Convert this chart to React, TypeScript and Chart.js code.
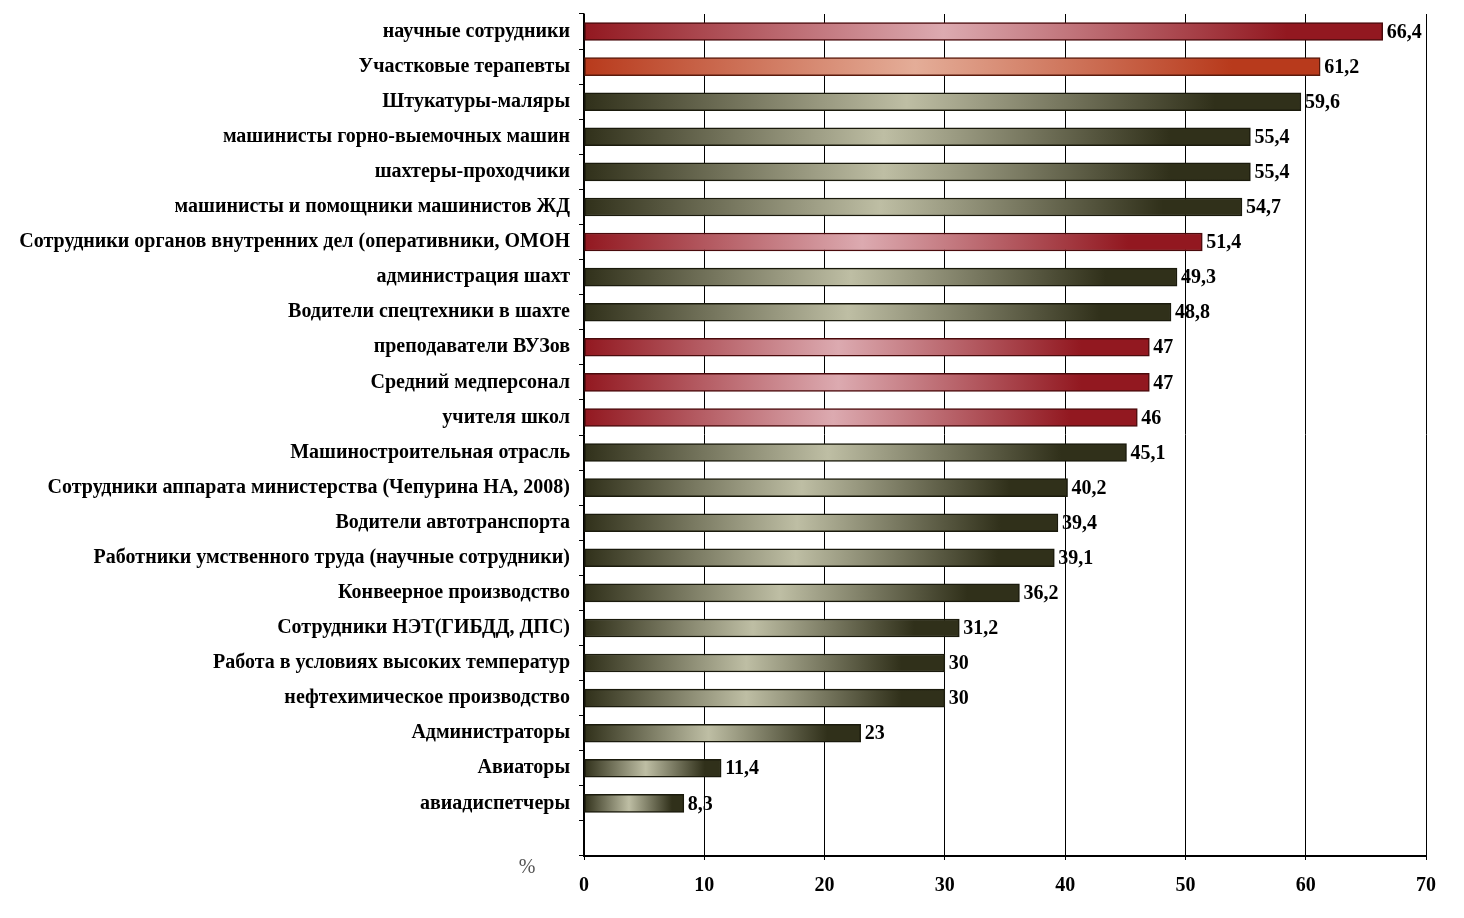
import React, { useEffect, useRef } from "react";
import { Chart, registerables } from "chart.js";

Chart.register(...registerables);

// categories, top to bottom; the last empty slot is the blank row above the x axis
const categories = [
    "научные сотрудники",
    "Участковые терапевты",
    "Штукатуры-маляры",
    "машинисты горно-выемочных машин",
    "шахтеры-проходчики",
    "машинисты и помощники машинистов ЖД",
    "Сотрудники органов внутренних дел (оперативники, ОМОН",
    "администрация шахт",
    "Водители спецтехники в шахте",
    "преподаватели ВУЗов",
    "Средний медперсонал",
    "учителя школ",
    "Машиностроительная отрасль",
    "Сотрудники аппарата министерства (Чепурина НА, 2008)",
    "Водители автотранспорта",
    "Работники умственного труда (научные сотрудники)",
    "Конвеерное производство",
    "Сотрудники НЭТ(ГИБДД, ДПС)",
    "Работа в условиях высоких температур",
    "нефтехимическое производство",
    "Администраторы",
    "Авиаторы",
    "авиадиспетчеры",
    "",
];

const values = [
    66.4, 61.2, 59.6, 55.4, 55.4, 54.7, 51.4, 49.3, 48.8, 47, 47, 46,
    45.1, 40.2, 39.4, 39.1, 36.2, 31.2, 30, 30, 23, 11.4, 8.3, null,
];

const tones = [
    "red", "orange", "olive", "olive", "olive", "olive", "red", "olive",
    "olive", "red", "red", "red", "olive", "olive", "olive", "olive",
    "olive", "olive", "olive", "olive", "olive", "olive", "olive", "olive",
];

const xMin = 0;
const xMax = 70;
const xStep = 10;
const unitLabel = "%";

const palette = {
    red: { dark: "#921820", light: "#dcaab0", edge: "#4a0a0c" },
    orange: { dark: "#b83a1c", light: "#e4ad98", edge: "#5a1a0c" },
    olive: { dark: "#30301a", light: "#bebea4", edge: "#1a1a0c" },
};

const serif = '"Liberation Serif", "Times New Roman", serif';

const valueLabels = {
    id: "valueLabels",
    afterDatasetsDraw(chart) {
        const meta = chart.getDatasetMeta(0);
        const c = chart.ctx;
        c.save();
        c.font = `bold 20px ${serif}`;
        c.fillStyle = "#000";
        c.textAlign = "left";
        c.textBaseline = "middle";
        meta.data.forEach((bar, i) => {
            const v = values[i];
            if (v == null) return;
            c.fillText(String(v).replace(".", ","), bar.x + 4, bar.y + 1);
        });
        // unit sign below the axis, left of zero
        const { left, bottom } = chart.chartArea;
        c.font = `20px ${serif}`;
        c.fillStyle = "#555";
        c.textAlign = "center";
        c.fillText(unitLabel, left - 57, bottom + 12);
        c.restore();
    },
};

const barFill = (ctx) => {
    const chart = ctx.chart;
    const x = chart.scales.x;
    const v = values[ctx.dataIndex];
    const p = palette[tones[ctx.dataIndex]] || palette.olive;
    if (!x || v == null) return p.dark;
    const x0 = x.getPixelForValue(0);
    const x1 = x.getPixelForValue(v);
    if (!Number.isFinite(x0) || !Number.isFinite(x1) || x1 <= x0) return p.dark;
    const g = chart.ctx.createLinearGradient(x0, 0, x1, 0);
    g.addColorStop(0, p.dark);
    g.addColorStop(0.45, p.light);
    g.addColorStop(0.88, p.dark);
    g.addColorStop(1, p.dark);
    return g;
};

const App = () => {
    const chartRef = useRef(null);
    const chartInstance = useRef(null);

    useEffect(() => {
        document.body.style.margin = "0";
        if (chartInstance.current) {
            chartInstance.current.destroy();
        }
        const ctx = chartRef.current.getContext("2d");
        chartInstance.current = new Chart(ctx, {
            type: "bar",
            data: {
                labels: categories,
                datasets: [{
                    data: values,
                    backgroundColor: barFill,
                    borderColor: (c) => (palette[tones[c.dataIndex]] || palette.olive).edge,
                    borderWidth: 1.5,
                    borderSkipped: false,
                    barThickness: 18,
                }],
            },
            options: {
                indexAxis: "y",
                animation: false,
                responsive: true,
                maintainAspectRatio: false,
                layout: { padding: { top: 14, right: 38, left: 0, bottom: 0 } },
                plugins: {
                    legend: { display: false },
                    tooltip: { enabled: false },
                },
                scales: {
                    x: {
                        min: xMin,
                        max: xMax,
                        ticks: {
                            stepSize: xStep,
                            color: "#000",
                            font: { family: serif, weight: "bold", size: 20 },
                            padding: 14,
                        },
                        grid: { color: "#000", lineWidth: 1, tickLength: 4 },
                        border: { color: "#000", width: 2 },
                        afterFit: (s) => { s.height = 62; },
                    },
                    y: {
                        grid: {
                            drawOnChartArea: false,
                            color: "#000",
                            lineWidth: 1,
                            tickLength: 5,
                            offset: true,
                        },
                        border: { color: "#000", width: 1.5 },
                        ticks: {
                            color: "#000",
                            autoSkip: false,
                            font: { family: serif, weight: "bold", size: 20 },
                            padding: 9,
                        },
                        afterFit: (s) => {
                            s.width = 584;
                            s.paddingTop = 0;
                            s.paddingBottom = 0;
                        },
                    },
                },
            },
            plugins: [valueLabels],
        });

        return () => {
            if (chartInstance.current) {
                chartInstance.current.destroy();
            }
        };
    }, []);

    return (
        <div style={{ position: "absolute", left: 0, top: 0, width: 1464, height: 918 }}>
            <canvas ref={chartRef} />
        </div>
    );
};

export default App;
